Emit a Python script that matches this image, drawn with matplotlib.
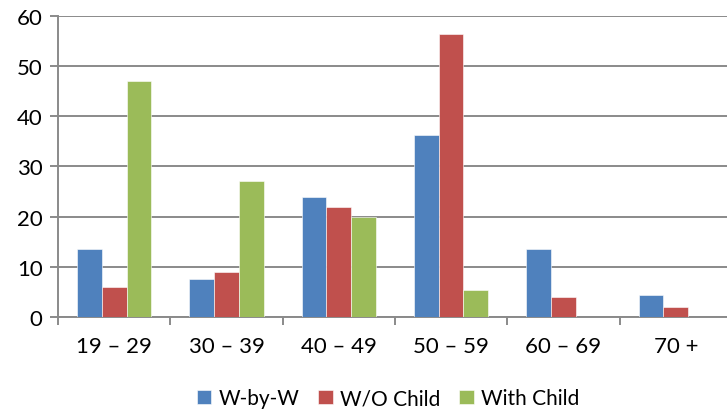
import matplotlib.pyplot as plt
import numpy as np

# age groups and shares (%) for each group
categories = ['19 – 29', '30 – 39', '40 – 49', '50 – 59', '60 – 69', '70 +']
w_by_w = [13.5, 7.5, 24.0, 36.2, 13.5, 4.4]
wo_child = [6.0, 9.0, 22.0, 56.4, 3.9, 1.9]
with_child = [47.1, 27.1, 19.9, 5.4, 0.0, 0.0]

series = [('W-by-W', w_by_w, '#4F81BD'),
          ('W/O Child', wo_child, '#C0504D'),
          ('With Child', with_child, '#9BBB59')]

plt.rcParams['font.family'] = ['Lato', 'DejaVu Sans']

fig = plt.figure(figsize=(7.27, 4.14), dpi=100)
ax = fig.add_axes([0.0798, 0.232, 0.927, 0.727])

x = np.arange(len(categories))
width = 0.22
for i, (name, vals, color) in enumerate(series):
    ax.bar(x + (i - 1) * width, vals, width, color=color, label=name,
           edgecolor='white', linewidth=0.4, zorder=3)

ax.set_xlim(-0.5, len(categories) - 0.5)
ax.set_ylim(0, 60)
ax.set_yticks(range(0, 61, 10))
ax.grid(axis='y', color='#8A8A8A', linewidth=1.4, zorder=0)

for s in ['top', 'right']:
    ax.spines[s].set_visible(False)
for s in ['left', 'bottom']:
    ax.spines[s].set_color('#8A8A8A')
    ax.spines[s].set_linewidth(1.4)

ax.set_xticks(x)
ax.set_xticklabels(categories)
ax.set_xticks(np.arange(-0.5, len(categories), 1), minor=True)
ax.tick_params(axis='x', which='major', length=0, pad=14, labelsize=16)
ax.tick_params(axis='x', which='minor', length=6, width=1.4, color='#8A8A8A')
ax.tick_params(axis='y', length=6, width=1.4, color='#8A8A8A', pad=5, labelsize=16)

ax.legend(loc='upper center', bbox_to_anchor=(0.49, -0.175), ncol=3, frameon=False,
          fontsize=15, handlelength=0.7, handleheight=0.7, handletextpad=0.35,
          columnspacing=0.9)

plt.savefig('out.png', dpi=100)
